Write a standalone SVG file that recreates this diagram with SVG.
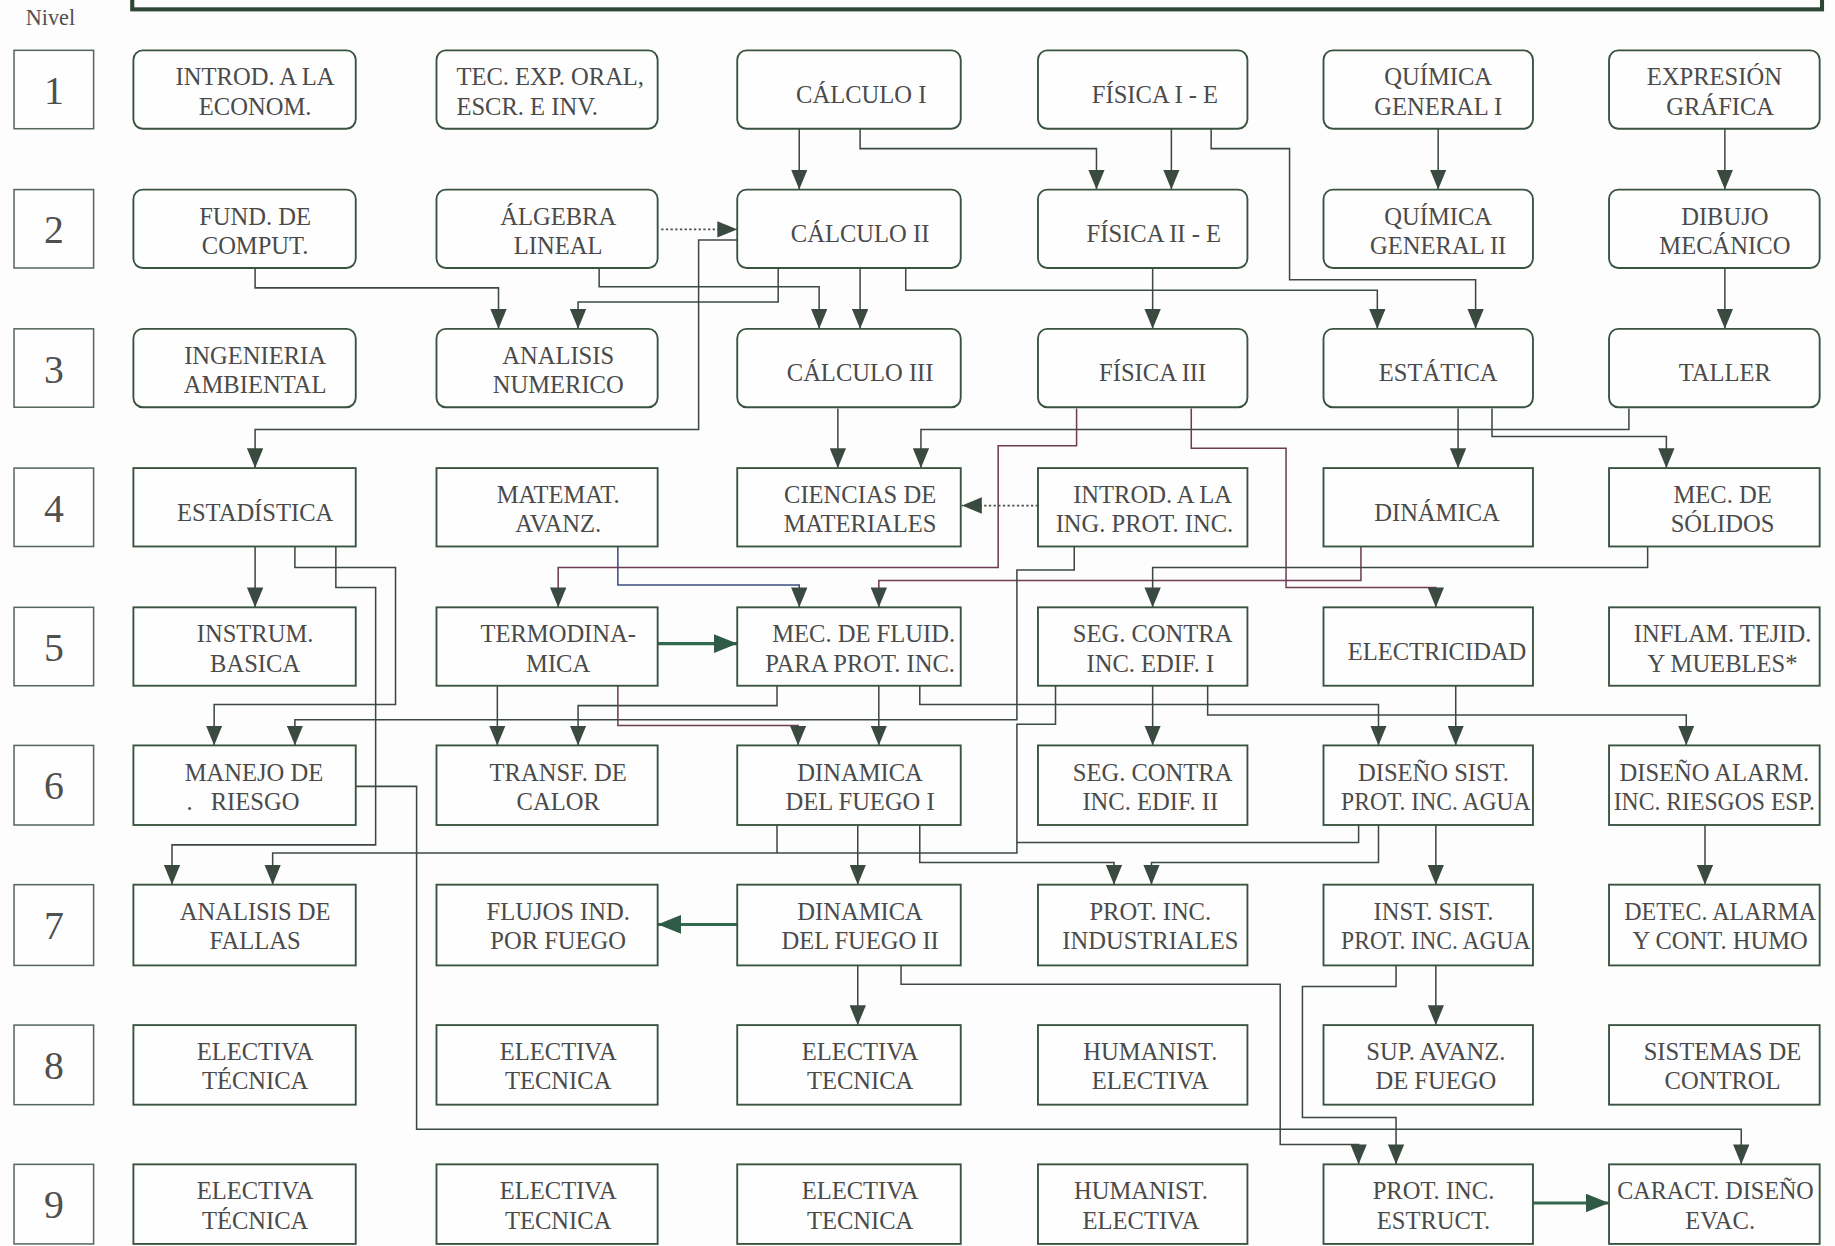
<svg xmlns="http://www.w3.org/2000/svg" width="1835" height="1246" viewBox="0 0 1835 1246">
<defs>
<style>
.bg{fill:#fdfdfd}
.bx{fill:#fefefe;stroke:#3a5340;stroke-width:1.6}
.nv{fill:#fefefe;stroke:#55665a;stroke-width:1.3}
.t{font-family:"Liberation Serif","Times New Roman",serif;font-size:21px;fill:#4a4a4a;text-anchor:middle}
.tl{text-anchor:start}
.num{font-family:"Liberation Serif","Times New Roman",serif;font-size:34px;fill:#505050;text-anchor:middle}
.nivel{font-family:"Liberation Serif","Times New Roman",serif;font-size:19px;fill:#505050}
.ln{fill:none;stroke:#3d4840;stroke-width:1.3}
.a{marker-end:url(#ah)}
.red{stroke:#6d3c55}
.blu{stroke:#3c4c80}
.dot{fill:none;stroke:#4a524c;stroke-width:1.5;stroke-dasharray:2 2;marker-end:url(#ah)}
.thk{fill:none;stroke:#2f6a50;stroke-width:2.6;marker-end:url(#ahb)}
</style>
<marker id="ah" viewBox="0 0 17 14" refX="17" refY="7" markerWidth="17" markerHeight="14" markerUnits="userSpaceOnUse" orient="auto"><path d="M0,0 L17,7 L0,14 z" fill="#3b4a40"/></marker>
<marker id="ahb" viewBox="0 0 20 16" refX="20" refY="8" markerWidth="20" markerHeight="16" markerUnits="userSpaceOnUse" orient="auto"><path d="M0,0 L20,8 L0,16 z" fill="#2f5a45"/></marker>
</defs>
<rect class="bg" x="0" y="0" width="1835" height="1246"/>
<g transform="scale(1.1702)">
<rect x="113" y="-30" width="1444" height="38" fill="none" stroke="#2e4734" stroke-width="3.5"/>
<text class="nivel" x="22" y="21">Nivel</text>
<g id="niveles">
<rect class="nv" x="12" y="43" width="68" height="67"/><text class="num" x="46" y="89">1</text>
<rect class="nv" x="12" y="162" width="68" height="67"/><text class="num" x="46" y="208">2</text>
<rect class="nv" x="12" y="281" width="68" height="67"/><text class="num" x="46" y="327">3</text>
<rect class="nv" x="12" y="400" width="68" height="67"/><text class="num" x="46" y="446">4</text>
<rect class="nv" x="12" y="519" width="68" height="67"/><text class="num" x="46" y="565">5</text>
<rect class="nv" x="12" y="637" width="68" height="68"/><text class="num" x="46" y="683">6</text>
<rect class="nv" x="12" y="756" width="68" height="69"/><text class="num" x="46" y="802">7</text>
<rect class="nv" x="12" y="876" width="68" height="68"/><text class="num" x="46" y="922">8</text>
<rect class="nv" x="12" y="995" width="68" height="68"/><text class="num" x="46" y="1041">9</text>
</g>

<g id="connectors">
<path class="ln a" d="M683,110 V162"/>
<path class="ln a" d="M735,110 V127 H937 V162"/>
<path class="ln a" d="M1001,110 V162"/>
<path class="ln a" d="M1035,110 V127 H1102 V239 H1261 V281"/>
<path class="ln a" d="M1229,110 V162"/>
<path class="ln a" d="M1474,110 V162"/>
<path class="dot" d="M565,196 H630"/>
<path class="ln a" d="M218,229 V246 H426 V281"/>
<path class="ln a" d="M512,229 V245 H700 V281"/>
<path class="ln a" d="M665,229 V258 H494 V281"/>
<path class="ln a" d="M735,229 V281"/>
<path class="ln a" d="M774,229 V248 H1177 V281"/>
<path class="ln a" d="M985,229 V281"/>
<path class="ln a" d="M1474,229 V281"/>
<path class="ln a" d="M630,205 H597 V367 H218 V400"/>
<path class="ln a" d="M716,349 V400"/>
<path class="ln a" d="M1392,349 V367 H787 V400"/>
<path class="ln red a" d="M920,349 V381 H853 V485 H477 V519"/>
<path class="ln red a" d="M1018,349 V383 H1099 V502 H1227 V519"/>
<path class="ln a" d="M1246,349 V400"/>
<path class="ln a" d="M1275,349 V373 H1424 V400"/>
<path class="dot" d="M887,432 H822"/>
<path class="ln a" d="M218,467 V519"/>
<path class="ln a" d="M252,467 V485 H338 V602 H183 V637"/>
<path class="ln a" d="M287,467 V502 H321 V722 H147 V756"/>
<path class="ln blu a" d="M528,467 V500 H683 V519"/>
<path class="ln red a" d="M1163,467 V496 H751 V519"/>
<path class="ln a" d="M1408,467 V485 H985 V519"/>
<path class="ln a" d="M918,467 V487 H869 V615 H252 V637"/>
<path class="thk" d="M562,550 H630"/>
<path class="ln a" d="M425,586 V637"/>
<path class="ln a" d="M664,586 V603 H494 V637"/>
<path class="ln red a" d="M528,586 V620 H682 V637"/>
<path class="ln a" d="M751,586 V637"/>
<path class="ln a" d="M786,586 V602 H1178 V637"/>
<path class="ln a" d="M985,586 V637"/>
<path class="ln a" d="M1032,586 V611 H1441 V637"/>
<path class="ln a" d="M1244,586 V637"/>
<path class="ln a" d="M902,586 V619 H869 V729 H233 V756"/>
<path class="ln" d="M1161,705 V720 H869"/>
<path class="ln" d="M664,705 V729"/>
<path class="ln a" d="M733,705 V756"/>
<path class="ln a" d="M786,705 V737 H952 V756"/>
<path class="ln a" d="M1178,705 V737 H984 V756"/>
<path class="ln a" d="M1227,705 V756"/>
<path class="ln a" d="M1457,705 V756"/>
<path class="thk" d="M630,790 H562"/>
<path class="ln a" d="M733,825 V876"/>
<path class="ln a" d="M1227,825 V876"/>
<path class="ln a" d="M770,825 V841 H1094 V978 H1161 V995"/>
<path class="ln a" d="M1193,825 V843 H1113 V955 H1193 V995"/>
<path class="ln a" d="M304,672 H356 V965 H1488 V995"/>
<path class="thk" d="M1310,1028 H1375"/>
</g>

<g id="n-introd-econom"><rect class="bx" x="114" y="43" width="190" height="67" rx="8"/><text class="t" x="218" y="73">INTROD. A LA</text><text class="t" x="218" y="98">ECONOM.</text></g>
<g id="n-tec-exp"><rect class="bx" x="373" y="43" width="189" height="67" rx="8"/><text class="t tl" x="390" y="73">TEC. EXP. ORAL,</text><text class="t tl" x="390" y="98">ESCR. E INV.</text></g>
<g id="n-calculo1"><rect class="bx" x="630" y="43" width="191" height="67" rx="8"/><text class="t" x="736" y="88">CÁLCULO I</text></g>
<g id="n-fisica1"><rect class="bx" x="887" y="43" width="179" height="67" rx="8"/><text class="t" x="987" y="88">FÍSICA I - E</text></g>
<g id="n-quimica1"><rect class="bx" x="1131" y="43" width="179" height="67" rx="8"/><text class="t" x="1229" y="73">QUÍMICA</text><text class="t" x="1229" y="98">GENERAL I</text></g>
<g id="n-expresion"><rect class="bx" x="1375" y="43" width="180" height="67" rx="8"/><text class="t" x="1465" y="73">EXPRESIÓN</text><text class="t" x="1470" y="98">GRÁFICA</text></g>

<g id="n-fund-comput"><rect class="bx" x="114" y="162" width="190" height="67" rx="8"/><text class="t" x="218" y="192">FUND. DE</text><text class="t" x="218" y="217">COMPUT.</text></g>
<g id="n-algebra"><rect class="bx" x="373" y="162" width="189" height="67" rx="8"/><text class="t" x="477" y="192">ÁLGEBRA</text><text class="t" x="477" y="217">LINEAL</text></g>
<g id="n-calculo2"><rect class="bx" x="630" y="162" width="191" height="67" rx="8"/><text class="t" x="735" y="207">CÁLCULO II</text></g>
<g id="n-fisica2"><rect class="bx" x="887" y="162" width="179" height="67" rx="8"/><text class="t" x="986" y="207">FÍSICA II - E</text></g>
<g id="n-quimica2"><rect class="bx" x="1131" y="162" width="179" height="67" rx="8"/><text class="t" x="1229" y="192">QUÍMICA</text><text class="t" x="1229" y="217">GENERAL II</text></g>
<g id="n-dibujo"><rect class="bx" x="1375" y="162" width="180" height="67" rx="8"/><text class="t" x="1474" y="192">DIBUJO</text><text class="t" x="1474" y="217">MECÁNICO</text></g>

<g id="n-ing-amb"><rect class="bx" x="114" y="281" width="190" height="67" rx="8"/><text class="t" x="218" y="311">INGENIERIA</text><text class="t" x="218" y="336">AMBIENTAL</text></g>
<g id="n-analisis-num"><rect class="bx" x="373" y="281" width="189" height="67" rx="8"/><text class="t" x="477" y="311">ANALISIS</text><text class="t" x="477" y="336">NUMERICO</text></g>
<g id="n-calculo3"><rect class="bx" x="630" y="281" width="191" height="67" rx="8"/><text class="t" x="735" y="326">CÁLCULO III</text></g>
<g id="n-fisica3"><rect class="bx" x="887" y="281" width="179" height="67" rx="8"/><text class="t" x="985" y="326">FÍSICA III</text></g>
<g id="n-estatica"><rect class="bx" x="1131" y="281" width="179" height="67" rx="8"/><text class="t" x="1229" y="326">ESTÁTICA</text></g>
<g id="n-taller"><rect class="bx" x="1375" y="281" width="180" height="67" rx="8"/><text class="t" x="1474" y="326">TALLER</text></g>

<g id="n-estadistica"><rect class="bx" x="114" y="400" width="190" height="67"/><text class="t" x="218" y="445">ESTADÍSTICA</text></g>
<g id="n-matemat"><rect class="bx" x="373" y="400" width="189" height="67"/><text class="t" x="477" y="430">MATEMAT.</text><text class="t" x="477" y="455">AVANZ.</text></g>
<g id="n-ciencias-mat"><rect class="bx" x="630" y="400" width="191" height="67"/><text class="t" x="735" y="430">CIENCIAS DE</text><text class="t" x="735" y="455">MATERIALES</text></g>
<g id="n-introd-ing"><rect class="bx" x="887" y="400" width="179" height="67"/><text class="t" x="985" y="430">INTROD. A LA</text><text class="t" x="978" y="455">ING. PROT. INC.</text></g>
<g id="n-dinamica"><rect class="bx" x="1131" y="400" width="179" height="67"/><text class="t" x="1228" y="445">DINÁMICA</text></g>
<g id="n-mec-solidos"><rect class="bx" x="1375" y="400" width="180" height="67"/><text class="t" x="1472" y="430">MEC. DE</text><text class="t" x="1472" y="455">SÓLIDOS</text></g>

<g id="n-instrum"><rect class="bx" x="114" y="519" width="190" height="67"/><text class="t" x="218" y="549">INSTRUM.</text><text class="t" x="218" y="574">BASICA</text></g>
<g id="n-termo"><rect class="bx" x="373" y="519" width="189" height="67"/><text class="t" x="477" y="549">TERMODINA-</text><text class="t" x="477" y="574">MICA</text></g>
<g id="n-mec-fluid"><rect class="bx" x="630" y="519" width="191" height="67"/><text class="t" x="738" y="549">MEC. DE FLUID.</text><text class="t" x="735" y="574">PARA PROT. INC.</text></g>
<g id="n-seg1"><rect class="bx" x="887" y="519" width="179" height="67"/><text class="t" x="985" y="549">SEG. CONTRA</text><text class="t" x="983" y="574">INC. EDIF.  I</text></g>
<g id="n-electricidad"><rect class="bx" x="1131" y="519" width="179" height="67"/><text class="t" x="1228" y="564">ELECTRICIDAD</text></g>
<g id="n-inflam"><rect class="bx" x="1375" y="519" width="180" height="67"/><text class="t" x="1472" y="549">INFLAM. TEJID.</text><text class="t" x="1472" y="574">Y MUEBLES*</text></g>

<g id="n-manejo"><rect class="bx" x="114" y="637" width="190" height="68"/><text class="t" x="217" y="667">MANEJO DE</text><text class="t" x="162" y="692">.</text><text class="t" x="218" y="692">RIESGO</text></g>
<g id="n-transf"><rect class="bx" x="373" y="637" width="189" height="68"/><text class="t" x="477" y="667">TRANSF. DE</text><text class="t" x="477" y="692">CALOR</text></g>
<g id="n-din-fuego1"><rect class="bx" x="630" y="637" width="191" height="68"/><text class="t" x="735" y="667">DINAMICA</text><text class="t" x="735" y="692">DEL FUEGO I</text></g>
<g id="n-seg2"><rect class="bx" x="887" y="637" width="179" height="68"/><text class="t" x="985" y="667">SEG. CONTRA</text><text class="t" x="983" y="692">INC. EDIF.  II</text></g>
<g id="n-diseno-sist"><rect class="bx" x="1131" y="637" width="179" height="68"/><text class="t" x="1225" y="667">DISEÑO SIST.</text><text class="t" x="1227" y="692" textLength="162" lengthAdjust="spacingAndGlyphs">PROT. INC. AGUA</text></g>
<g id="n-diseno-alarm"><rect class="bx" x="1375" y="637" width="180" height="68"/><text class="t" x="1465" y="667">DISEÑO ALARM.</text><text class="t" x="1465" y="692" textLength="172" lengthAdjust="spacingAndGlyphs">INC. RIESGOS ESP.</text></g>

<g id="n-fallas"><rect class="bx" x="114" y="756" width="190" height="69"/><text class="t" x="218" y="786">ANALISIS DE</text><text class="t" x="218" y="811">FALLAS</text></g>
<g id="n-flujos"><rect class="bx" x="373" y="756" width="189" height="69"/><text class="t" x="477" y="786">FLUJOS IND.</text><text class="t" x="477" y="811">POR FUEGO</text></g>
<g id="n-din-fuego2"><rect class="bx" x="630" y="756" width="191" height="69"/><text class="t" x="735" y="786">DINAMICA</text><text class="t" x="735" y="811">DEL FUEGO II</text></g>
<g id="n-prot-ind"><rect class="bx" x="887" y="756" width="179" height="69"/><text class="t" x="983" y="786">PROT. INC.</text><text class="t" x="983" y="811">INDUSTRIALES</text></g>
<g id="n-inst-sist"><rect class="bx" x="1131" y="756" width="179" height="69"/><text class="t" x="1225" y="786">INST. SIST.</text><text class="t" x="1227" y="811" textLength="162" lengthAdjust="spacingAndGlyphs">PROT. INC. AGUA</text></g>
<g id="n-detec"><rect class="bx" x="1375" y="756" width="180" height="69"/><text class="t" x="1470" y="786" textLength="164" lengthAdjust="spacingAndGlyphs">DETEC. ALARMA</text><text class="t" x="1470" y="811">Y CONT. HUMO</text></g>

<g id="n-elec8a"><rect class="bx" x="114" y="876" width="190" height="68"/><text class="t" x="218" y="906">ELECTIVA</text><text class="t" x="218" y="931">TÉCNICA</text></g>
<g id="n-elec8b"><rect class="bx" x="373" y="876" width="189" height="68"/><text class="t" x="477" y="906">ELECTIVA</text><text class="t" x="477" y="931">TECNICA</text></g>
<g id="n-elec8c"><rect class="bx" x="630" y="876" width="191" height="68"/><text class="t" x="735" y="906">ELECTIVA</text><text class="t" x="735" y="931">TECNICA</text></g>
<g id="n-hum8"><rect class="bx" x="887" y="876" width="179" height="68"/><text class="t" x="983" y="906">HUMANIST.</text><text class="t" x="983" y="931">ELECTIVA</text></g>
<g id="n-sup-avanz"><rect class="bx" x="1131" y="876" width="179" height="68"/><text class="t" x="1227" y="906">SUP. AVANZ.</text><text class="t" x="1227" y="931">DE FUEGO</text></g>
<g id="n-sist-control"><rect class="bx" x="1375" y="876" width="180" height="68"/><text class="t" x="1472" y="906">SISTEMAS DE</text><text class="t" x="1472" y="931">CONTROL</text></g>

<g id="n-elec9a"><rect class="bx" x="114" y="995" width="190" height="68"/><text class="t" x="218" y="1025">ELECTIVA</text><text class="t" x="218" y="1050">TÉCNICA</text></g>
<g id="n-elec9b"><rect class="bx" x="373" y="995" width="189" height="68"/><text class="t" x="477" y="1025">ELECTIVA</text><text class="t" x="477" y="1050">TECNICA</text></g>
<g id="n-elec9c"><rect class="bx" x="630" y="995" width="191" height="68"/><text class="t" x="735" y="1025">ELECTIVA</text><text class="t" x="735" y="1050">TECNICA</text></g>
<g id="n-hum9"><rect class="bx" x="887" y="995" width="179" height="68"/><text class="t" x="975" y="1025">HUMANIST.</text><text class="t" x="975" y="1050">ELECTIVA</text></g>
<g id="n-prot-estruct"><rect class="bx" x="1131" y="995" width="179" height="68"/><text class="t" x="1225" y="1025">PROT. INC.</text><text class="t" x="1225" y="1050">ESTRUCT.</text></g>
<g id="n-caract"><rect class="bx" x="1375" y="995" width="180" height="68"/><text class="t" x="1466" y="1025" textLength="168" lengthAdjust="spacingAndGlyphs">CARACT.  DISEÑO</text><text class="t" x="1470" y="1050">EVAC.</text></g>
</g>
</svg>
